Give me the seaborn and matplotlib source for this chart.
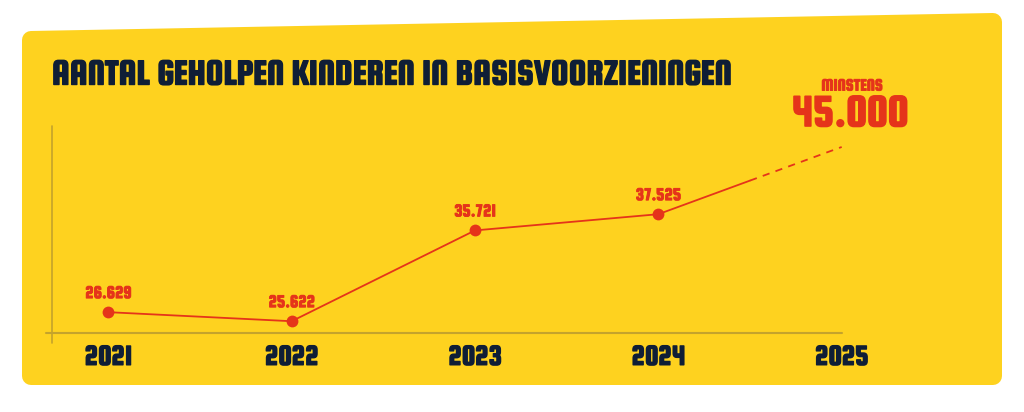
import matplotlib
matplotlib.use("Agg")
import matplotlib.pyplot as plt
import matplotlib.patheffects as pe
from matplotlib.patches import Polygon
import numpy as np
import pandas as pd
import seaborn as sns

# data
years = [2021, 2022, 2023, 2024]
kinderen = [26629, 25622, 35721, 37525]
target_year = 2025
target_value = 45000
tick_years = [2021, 2022, 2023, 2024, 2025]

title = "AANTAL GEHOLPEN KINDEREN IN BASISVOORZIENINGEN"

YELLOW = "#FED21F"
RED = "#E5341A"
NAVY = "#0F1E36"
AXIS = "#C4A32C"

W, H = 1024, 412
sns.set_style("white")
plt.rcParams["font.family"] = ["Squada One", "DejaVu Sans"]

fig = plt.figure(figsize=(W / 100, H / 100), dpi=100)
fig.patch.set_facecolor("white")


def fx(px):
    return px / W


def fy(py):
    return 1 - py / H


def heavy(color, w=0.9):
    # the display font in the original is heavier than Squada One
    return [pe.withStroke(linewidth=w, foreground=color)]


# yellow card, slanted top edge, rounded corners
r = 9
card = Polygon([(fx(22 + r), fy(31 + r)), (fx(1002 - r), fy(13 + r)),
                (fx(1002 - r), fy(385 - r)), (fx(22 + r), fy(385 - r))],
               closed=True, transform=fig.transFigure, facecolor=YELLOW,
               edgecolor=YELLOW, linewidth=2 * r * 72 / 100, joinstyle="round",
               zorder=-1)
fig.patches.append(card)

# axes: left edge at vertical line, right edge at the 2025 tick
left_px, right_px, top_px, bot_px = 51.7, 841.7, 126, 333
ax = fig.add_axes([fx(left_px), fy(bot_px), fx(right_px - left_px),
                   (bot_px - top_px) / H])
ax.set_facecolor("none")
ax.set_zorder(1)

df = pd.DataFrame({"jaar": years, "kinderen": kinderen})
sns.lineplot(data=df, x="jaar", y="kinderen", ax=ax, color=RED, linewidth=1.3,
             marker="o", markersize=8.5, markeredgewidth=0, zorder=3)

# projection to 2025: first half solid, second half dashed
mid_x = (years[-1] + target_year) / 2
mid_y = (kinderen[-1] + target_value) / 2
ax.plot([years[-1], mid_x], [kinderen[-1], mid_y], color=RED, lw=1.3, zorder=2)
ax.plot([mid_x, target_year], [mid_y, target_value], color=RED, lw=1.3,
        dashes=(4, 3.5), zorder=2)

for x, v in zip(years, kinderen):
    ax.annotate(f"{v:,}".replace(",", "."), (x, v), xytext=(0, 8),
                textcoords="offset points", ha="center", va="bottom",
                color=RED, fontsize=13, path_effects=heavy(RED, 0.7))

x0 = years[0] - (108.3 - left_px) / 183.3
ax.set_xlim(x0, target_year)
ax.set_ylim(24313, 47333)

for s in ax.spines.values():
    s.set_visible(False)
ax.plot([-5.5 / (right_px - left_px), 1], [0, 0], transform=ax.transAxes,
        color=AXIS, lw=1.5, clip_on=False)
ax.plot([0, 0], [-10 / (bot_px - top_px), 1], transform=ax.transAxes,
        color=AXIS, lw=1.2, clip_on=False)

ax.set_xticks(tick_years)
ax.set_xticklabels([str(t) for t in tick_years])
ax.set_yticks([])
ax.tick_params(axis="x", direction="inout", length=7, width=1, color=AXIS,
               pad=5, labelsize=21, labelcolor=NAVY)
for lbl in ax.get_xticklabels():
    lbl.set_path_effects(heavy(NAVY, 1.0))
ax.set_xlabel("")
ax.set_ylabel("")

fig.text(fx(52), fy(75), title, ha="left", va="center", color=NAVY,
         fontsize=26.5, path_effects=heavy(NAVY, 1.0))
fig.text(fx(852), fy(86), "MINSTENS", ha="center", va="center", color=RED,
         fontsize=12.5, path_effects=heavy(RED, 0.6))
fig.text(fx(850), fy(115), f"{target_value:,}".replace(",", "."), ha="center",
         va="center", color=RED, fontsize=33, path_effects=heavy(RED, 1.2))

fig.savefig("out.png", dpi=100, facecolor="white")
